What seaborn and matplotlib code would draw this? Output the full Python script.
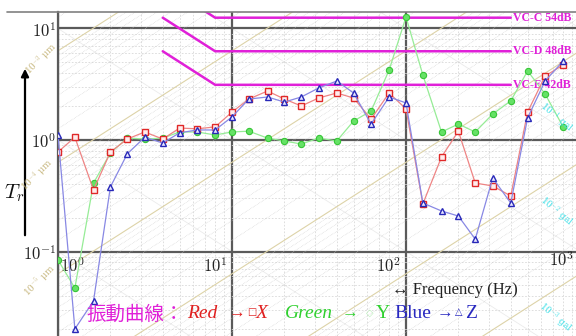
import numpy as np
import pandas as pd
import matplotlib
matplotlib.use("Agg")
import matplotlib.pyplot as plt
from matplotlib.lines import Line2D
from matplotlib.patches import FancyArrowPatch
import seaborn as sns

# ---------------- data ----------------
freq = [1, 1.25, 1.6, 2, 2.5, 3.15, 4, 5, 6.3, 8, 10, 12.5, 16, 20, 25, 31.5,
        40, 50, 63, 80, 100, 125, 160, 200, 250, 315, 400, 500, 630, 800]
red_x = [0.78, 1.06, 0.356, 0.78, 1.02, 1.18, 1.02, 1.28, 1.26, 1.31, 1.78, 2.33,
         2.75, 2.33, 2.02, 2.38, 2.64, 2.38, 1.54, 2.64, 1.90, 0.267, 0.705, 1.20,
         0.411, 0.387, 0.315, 1.78, 3.75, 4.71]
green_y = [0.084, 0.047, 0.411, 0.765, 1.04, 1.02, 1.04, 1.18, 1.18, 1.11, 1.18, 1.20,
           1.04, 0.98, 0.92, 1.04, 0.98, 1.48, 1.82, 4.24, 12.7, 3.83, 1.18, 1.39,
           1.18, 1.71, 2.24, 4.16, 2.59, 1.31]
blue_z = [1.11, 0.0202, 0.036, 0.379, 0.75, 1.06, 0.94, 1.16, 1.23, 1.23, 1.61, 2.33,
          2.43, 2.19, 2.43, 2.93, 3.38, 2.64, 1.39, 2.43, 2.15, 0.272, 0.231, 0.208,
          0.129, 0.456, 0.272, 1.58, 3.38, 5.11]

vc_names = ["VC-C 54dB", "VC-D 48dB", "VC-E 42dB"]
vc_levels = [12.5, 6.25, 3.125]
vc_start, vc_knee, vc_end = 4, 8, 400

disp_decades = [-4.2, -3.2, -2.2, -1.2, -0.2, 0.8]      # log10(y/x) of tan lines
disp_labels = ["10$^{-3}$ μm", "10$^{-4}$ μm", "10$^{-5}$ μm"]
acc_labels = ["10$^{-1}$ gal", "10$^{-2}$ gal", "10$^{-3}$ gal"]
xtick_labels = ["$10^0$", "$10^1$", "$10^2$", "$10^3$"]
ytick_labels = ["$10^1$", "$10^0$", "$10^{-1}$"]

# ---------------- style ----------------
sns.set_theme(style="white")
plt.rcParams["font.family"] = ["DejaVu Serif", "DejaVu Sans", "Noto Sans CJK JP"]
plt.rcParams["mathtext.fontset"] = "cm"

W, H = 576, 336
fig = plt.figure(figsize=(W / 100, H / 100), dpi=100)
fig.patch.set_facecolor("white")
ax = fig.add_axes([58 / W, 0, 1 - 58 / W, (H - 12) / H])
ax.set_facecolor("white")
ax.set_xscale("log")
ax.set_yscale("log")
xdec, ydec = 174.0, 111.5
ax.set_xlim(1, 10 ** ((W - 58) / xdec))
ax.set_ylim(10 ** (-(336 - 140) / ydec), 10 ** ((140 - 12) / ydec))

ax.set_axisbelow(True)
ax.grid(which="minor", color="#d8d8d8", lw=0.6, ls=(0, (2, 2)))
ax.grid(which="major", color="#5a5a5a", lw=1.6)
ax.tick_params(which="both", labelbottom=False, labelleft=False, length=0)
for s in ["top", "right", "bottom"]:
    ax.spines[s].set_visible(False)
ax.spines["left"].set_color("#5a5a5a")
ax.spines["left"].set_linewidth(1.6)

# background diagonal (displacement) lines
xs = np.array([0.5, 2000.0])
for d in disp_decades:
    ax.plot(xs, xs * 10 ** d, color="#ddd3a8", lw=0.8, zorder=0.6)
    for m in range(2, 10):
        ax.plot(xs, xs * 10 ** d * m, color="#cdcdcd", lw=0.45,
                ls=(0, (1, 1.5)), zorder=0.55)
# faint opposite-slope lines
for d in [-1, 0, 1, 2, 3, 4]:
    ax.plot(xs, 10 ** d / xs, color="#ebebeb", lw=0.6, zorder=0.5)

# VC criteria
mag = "#e020d8"
for name, lev in zip(vc_names, vc_levels):
    ax.plot([vc_start, vc_knee, vc_end], [lev * vc_knee / vc_start, lev, lev],
            color=mag, lw=1.8, zorder=3)
    ax.text(412, lev, name, color=mag, fontsize=8.5, fontweight="bold",
            family=["Liberation Serif", "DejaVu Serif"], va="center", ha="left",
            clip_on=False, zorder=4)

# vibration curves
sns.lineplot(x=freq, y=green_y, ax=ax, color="#96ec96", lw=0.9, marker="o",
             markersize=4.5, markerfacecolor="#66e266", markeredgecolor="#36c636",
             markeredgewidth=0.8, zorder=5)
sns.lineplot(x=freq, y=red_x, ax=ax, color="#ee8484", lw=0.9, marker="s",
             markersize=4.8, markerfacecolor="#ffecec", markeredgecolor="#e02828",
             markeredgewidth=1.0, zorder=6)
sns.lineplot(x=freq, y=blue_z, ax=ax, color="#8888e4", lw=0.9, marker="^",
             markersize=5, markerfacecolor="#e8e8ff", markeredgecolor="#2828b8",
             markeredgewidth=1.0, zorder=7)
ax.set_xlabel("")
ax.set_ylabel("")

# tick labels
ylab_y = [10, 1, 0.1]
for v, t in zip(ylab_y, ytick_labels):
    ax.text(10 ** (-2 / xdec), v * 10 ** (-3 / ydec), t, fontsize=12,
            ha="right", va="center", color="#222222", clip_on=False)
xl_y = 10 ** ((140 - 267) / ydec)
ax.text(10 ** (2 / xdec), xl_y, xtick_labels[0], fontsize=12, ha="left",
        va="center", color="#222222")
for k in [1, 2]:
    ax.text(10 ** k * 10 ** (-5 / xdec), xl_y, xtick_labels[k], fontsize=12,
            ha="right", va="center", color="#222222")
ax.text(10 ** 3 * 10 ** (-6 / xdec), 10 ** ((140 - 261) / ydec), xtick_labels[3],
        fontsize=12, ha="right", va="center", color="#222222", clip_on=False)

# figure-level decorations
def fx(px):
    return px / W

def fy(py):
    return 1 - py / H

fig.add_artist(Line2D([fx(7), 1], [fy(12), fy(12)], color="#808080", lw=1.2))
fig.add_artist(FancyArrowPatch((fx(25), fy(238)), (fx(25), fy(66)),
                               transform=fig.transFigure, arrowstyle="-|>",
                               mutation_scale=11, lw=1.6, color="black"))
fig.text(fx(14), fy(193), "$T_r$", fontsize=15, ha="center", va="center",
         color="#111111")

for (px, py), t in zip([(42, 60), (38, 176), (40, 281)], disp_labels):
    fig.text(fx(px), fy(py), t, fontsize=6.5, color="#c8b880", rotation=45,
             ha="center", va="center")
for (px, py), t in zip([(556, 118), (556, 212), (555, 318)], acc_labels):
    fig.text(fx(px), fy(py), t, fontsize=6.5, color="#40e0e8", rotation=-40,
             ha="center", va="center")

fig.text(fx(392), fy(290), "↔ Frequency (Hz)", fontsize=12,
         family=["Liberation Serif", "DejaVu Sans"], color="#222222",
         ha="left", va="center")

serif = ["Liberation Serif", "DejaVu Sans"]
yb = fy(314)
fig.text(fx(86), yb, "振動曲線：", fontsize=14, color=mag,
         family=["Noto Sans CJK JP"], ha="left", va="center")
fig.text(fx(187), yb, "Red", fontsize=14, color="#e02020", family=serif,
         style="italic", ha="left", va="center")
fig.text(fx(229), yb, "→", fontsize=12, color="#e02020", family=serif,
         ha="left", va="center")
fig.text(fx(247), yb + 0.005, "□", fontsize=7, color="#e02020",
         family=["DejaVu Sans"], ha="left", va="center")
fig.text(fx(256), yb, "X", fontsize=14, color="#e02020", family=serif,
         style="italic", ha="left", va="center")
fig.text(fx(285), yb, "Green", fontsize=14, color="#30d030", family=serif,
         style="italic", ha="left", va="center")
fig.text(fx(342), yb, "→", fontsize=12, color="#30d030", family=serif,
         ha="left", va="center")
fig.text(fx(366), yb + 0.005, "◇", fontsize=7, color="#b8f0b8",
         family=["DejaVu Sans"], ha="left", va="center")
fig.text(fx(376), yb, "Y", fontsize=14, color="#30d030", family=serif,
         ha="left", va="center")
fig.text(fx(394), yb, "Blue", fontsize=14, color="#2828c0", family=serif,
         ha="left", va="center")
fig.text(fx(437), yb, "→", fontsize=12, color="#2828c0", family=serif,
         ha="left", va="center")
fig.text(fx(455), yb + 0.005, "△", fontsize=7, color="#2828c0",
         family=["DejaVu Sans"], ha="left", va="center")
fig.text(fx(465), yb, "Z", fontsize=14, color="#2828c0", family=serif,
         ha="left", va="center")

fig.savefig("out.png", dpi=100, facecolor="white")
